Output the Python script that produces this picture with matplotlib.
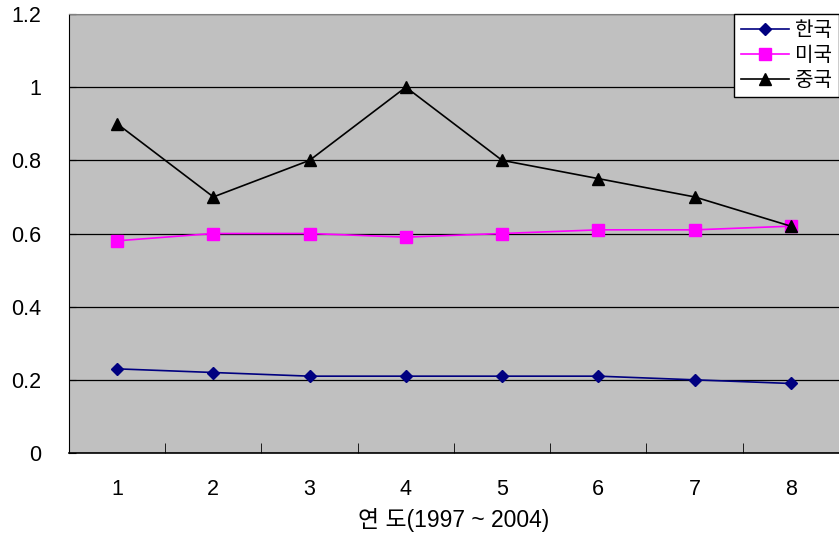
import matplotlib.pyplot as plt
from matplotlib.ticker import FixedLocator, NullFormatter

plt.rcParams['font.family'] = ['Liberation Sans', 'Noto Sans CJK KR', 'DejaVu Sans']

years = [1, 2, 3, 4, 5, 6, 7, 8]
korea = [0.23, 0.22, 0.21, 0.21, 0.21, 0.21, 0.20, 0.19]
usa = [0.58, 0.60, 0.60, 0.59, 0.60, 0.61, 0.61, 0.62]
china = [0.90, 0.70, 0.80, 1.00, 0.80, 0.75, 0.70, 0.62]
names = ['한국', '미국', '중국']

fig = plt.figure(figsize=(8.39, 5.35), dpi=100)
ax = fig.add_axes([0.0822, 0.1533, 0.9178, 0.8205])
ax.set_facecolor('#C0C0C0')

ax.plot(years, korea, color='#000080', marker='D', markersize=6, lw=1.2, label=names[0], zorder=3)
ax.plot(years, usa, color='#FF00FF', marker='s', markersize=8, lw=1.2, label=names[1], zorder=3)
ax.plot(years, china, color='black', marker='^', markersize=8, lw=1.2, label=names[2], zorder=4)

ax.set_xlim(0.5, 8.5)
ax.set_ylim(0, 1.2)
ax.set_yticks([0, 0.2, 0.4, 0.6, 0.8, 1.0, 1.2])
ax.set_yticklabels(['0', '0.2', '0.4', '0.6', '0.8', '1', '1.2'])
ax.set_xticks(years)
ax.xaxis.set_minor_locator(FixedLocator([1.5, 2.5, 3.5, 4.5, 5.5, 6.5, 7.5]))
ax.xaxis.set_minor_formatter(NullFormatter())
ax.tick_params(axis='x', which='major', length=0, labelsize=15.5, pad=19)
ax.tick_params(axis='x', which='minor', length=7, direction='in', color='black')
ax.tick_params(axis='y', length=5, direction='in', labelsize=15.5, pad=20)
ax.yaxis.grid(True, color='black', lw=0.9)
ax.set_axisbelow(True)

ax.spines['right'].set_visible(False)
ax.spines['top'].set_color('#808080')
ax.spines['left'].set_color('black')
ax.spines['bottom'].set_color('black')
ax.spines['bottom'].set_linewidth(1.2)

ax.set_xlabel('연 도(1997 ~ 2004)', fontsize=16.5)
ax.xaxis.set_label_coords(0.5, -0.125)

leg = ax.legend(loc='upper right', bbox_to_anchor=(1.0, 1.0), fontsize=14.5, frameon=True,
                fancybox=False, framealpha=1, edgecolor='black', borderaxespad=0,
                handlelength=2.4, handletextpad=0.3, labelspacing=0.3, borderpad=0.35)
leg.get_frame().set_linewidth(1.0)

plt.savefig('out.png', dpi=100)
